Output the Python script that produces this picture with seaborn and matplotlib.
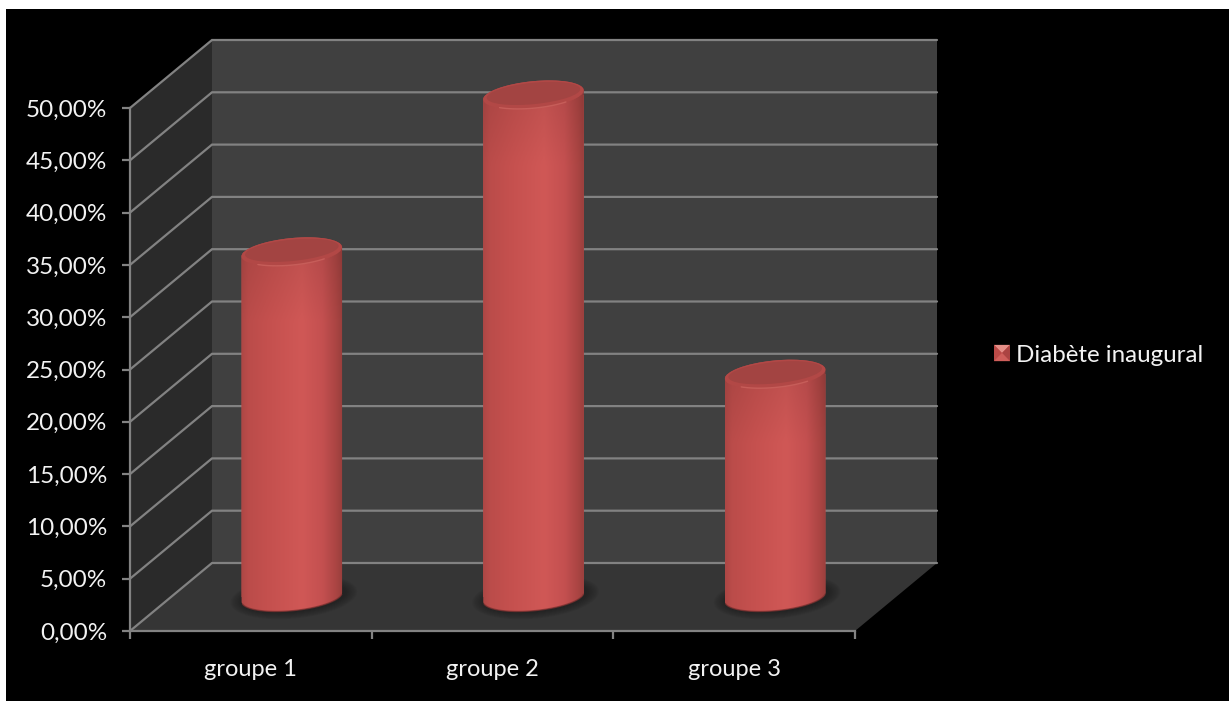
import numpy as np
import pandas as pd
import matplotlib
matplotlib.use("Agg")
import matplotlib.pyplot as plt
from matplotlib.colors import LinearSegmentedColormap
from matplotlib.patches import Ellipse, Polygon, Rectangle
from matplotlib.path import Path
from matplotlib.transforms import Affine2D, IdentityTransform
import seaborn as sns

# Chart content
groups = ["groupe 1", "groupe 2", "groupe 3"]
values = [33.0, 48.0, 21.3]
series_name = "Diabète inaugural"
y_ticks = [0, 5, 10, 15, 20, 25, 30, 35, 40, 45, 50]
y_tick_labels = [f"{v},00%" for v in y_ticks]

# Oblique projection of the box, in pixels
DEPTH_PX = (82, 68)
TILT_DEG = 5.6
CYL_SEMI_A, CYL_SEMI_B = 50.5, 13.7

WALL_SIDE = "#2a2a2a"
WALL_BACK = "#404040"
FLOOR = "#353535"
GRID = "#828282"
TEXT = "#f2f2f2"
BAR = "#c44f4d"

sns.set_theme(style="white")
plt.rcParams["font.family"] = ["Lato", "DejaVu Sans"]

fig = plt.figure(figsize=(12.29, 7.01), dpi=100, facecolor="white")
W, H = fig.get_size_inches() * fig.dpi
ax = fig.add_axes([130 / W, 70 / H, 725 / W, 523 / H])
ax.patch.set_visible(False)

# Black backdrop leaving a thin white edge at the top and left
fig.patches.append(Rectangle((6 / W, 0), 1, 1 - 9 / H, transform=fig.transFigure,
                             facecolor="black", edgecolor="none", zorder=-10))

df = pd.DataFrame({"groupe": groups, "valeur": values})
sns.barplot(data=df, x="groupe", y="valeur", color=BAR, saturation=1, width=0.418,
            label=series_name, legend=False, ax=ax, zorder=3)
bars = list(ax.patches)

ax.set_xlim(-0.5, 2.5)
ax.set_ylim(0, 50)
ax.set_xlabel("")
ax.set_ylabel("")

px_x = 725 / 3
px_y = 523 / 50
dx, dy = DEPTH_PX[0] / px_x, DEPTH_PX[1] / px_y
x0, x1 = -0.5, 2.5

# Box: side wall, back wall, floor
common = dict(clip_on=False, edgecolor="none")
ax.add_patch(Polygon([(x0, 0), (x0 + dx, dy), (x0 + dx, 50 + dy), (x0, 50)],
                     facecolor=WALL_SIDE, zorder=0.1, **common))
ax.add_patch(Polygon([(x0 + dx, dy), (x1 + dx, dy), (x1 + dx, 50 + dy), (x0 + dx, 50 + dy)],
                     facecolor=WALL_BACK, zorder=0.1, **common))
ax.add_patch(Polygon([(x0, 0), (x1, 0), (x1 + dx, dy), (x0 + dx, dy)],
                     facecolor=FLOOR, zorder=0.2, **common))

# Gridlines run along the side wall and across the back wall
for v in y_ticks:
    ax.plot([x0, x0 + dx, x1 + dx], [v, v + dy, v + dy], color=GRID, lw=1.6,
            clip_on=False, zorder=1, solid_joinstyle="miter")

bar_offset = Affine2D().translate(DEPTH_PX[0] / 2, DEPTH_PX[1] / 2)
bar_trans = ax.transData + bar_offset

theta = np.radians(TILT_DEG)


def ellipse_points(cx, cy, a, b, start, stop, n=80):
    t = np.linspace(start, stop, n)
    ex, ey = a * np.cos(t), b * np.sin(t)
    return np.column_stack([cx + ex * np.cos(theta) - ey * np.sin(theta),
                            cy + ex * np.sin(theta) + ey * np.cos(theta)])


body_cmap = LinearSegmentedColormap.from_list(
    "cylinder",
    [(0.0, "#ad4745"), (0.07, "#bb4c4a"), (0.3, "#c6514f"), (0.6, "#d05856"),
     (0.8, "#c45050"), (0.93, "#ab4543"), (1.0, "#983e3c")],
)
across = body_cmap(np.linspace(0, 1, 256))[:, :3]

for i, (bar, value) in enumerate(zip(bars, values)):
    base = ax.transData.transform((i, 0)) + np.array(DEPTH_PX) / 2
    top = ax.transData.transform((i, value)) + np.array(DEPTH_PX) / 2

    # Soft contact shadow on the floor
    for grow in np.linspace(13, 1, 9):
        ax.add_patch(Ellipse(base + np.array([2, 0]), 2 * CYL_SEMI_A + 2 * grow,
                             2 * CYL_SEMI_B + 1.2 * grow,
                             angle=TILT_DEG, transform=IdentityTransform(),
                             facecolor="#1c1c1c", edgecolor="none", alpha=0.10,
                             zorder=2, clip_on=False))

    # Curved body: lower arc of the base, upper arc of the top
    outline = np.vstack([
        ellipse_points(*base, CYL_SEMI_A, CYL_SEMI_B, np.pi, 2 * np.pi),
        ellipse_points(*top, CYL_SEMI_A, CYL_SEMI_B, 0, np.pi),
    ])
    body_path = Path(np.vstack([outline, outline[0]]), closed=True)

    bar.set_transform(bar_trans)
    bar.set_edgecolor("none")
    bar.set_linewidth(0)
    bar.set_clip_box(None)
    bar.set_clip_path(body_path, IdentityTransform())

    # Shading across the cylinder, slightly darker under the cap
    half = 0.209
    depth_px = np.linspace(-30, (value + 3) * px_y, 128)
    shade = np.interp(depth_px, [0, 70], [0.92, 1.0])[:, None, None]
    body_rgb = np.clip(across[None, :, :] * shade, 0, 1)
    im = ax.imshow(body_rgb, aspect="auto", origin="upper",
                   extent=(i - half, i + half, -3, value + 3),
                   transform=bar_trans, zorder=3.1)
    im.set_clip_box(fig.bbox)
    im.set_clip_path(body_path, IdentityTransform())
    ax.set_xlim(-0.5, 2.5)
    ax.set_ylim(0, 50)

    arc = ellipse_points(*base, CYL_SEMI_A, CYL_SEMI_B, np.pi * 1.05, np.pi * 1.95)
    ax.plot(*arc.T, transform=IdentityTransform(), color="#7c302f", lw=1.0, alpha=0.7,
            zorder=3.2, clip_on=False)

    # End cap with its bevelled rim and highlight along the front edge
    ax.add_patch(Ellipse(top, 2 * CYL_SEMI_A, 2 * CYL_SEMI_B, angle=TILT_DEG,
                         transform=IdentityTransform(), facecolor="#b24846",
                         edgecolor="none", zorder=4, clip_on=False))
    ax.add_patch(Ellipse(top + np.array([0, 1.5]), 2 * CYL_SEMI_A - 7, 2 * CYL_SEMI_B - 6,
                         angle=TILT_DEG, transform=IdentityTransform(), facecolor="#a34442",
                         edgecolor="none", zorder=4.1, clip_on=False))
    rim = ellipse_points(*top, CYL_SEMI_A - 1, CYL_SEMI_B - 0.5, np.pi * 1.25, np.pi * 1.72)
    ax.plot(*rim.T, transform=IdentityTransform(), color="#d76f69", lw=1.0, alpha=0.55,
            zorder=4.2, clip_on=False)

# Axis lines, ticks and labels
for side in ("top", "right"):
    ax.spines[side].set_visible(False)
for side in ("left", "bottom"):
    ax.spines[side].set_color(GRID)
    ax.spines[side].set_linewidth(1.6)
    ax.spines[side].set_zorder(5)

ax.set_yticks(y_ticks)
ax.set_yticklabels(y_tick_labels)
ax.set_xticks([-0.5, 0.5, 1.5, 2.5])
ax.set_xticklabels([])
ax.set_xticks([0, 1, 2], labels=groups, minor=True)
ax.tick_params(axis="y", which="major", left=True, length=5.5, width=1.6, color=GRID,
               labelcolor=TEXT, labelsize=17.5, pad=11)
ax.tick_params(axis="x", which="major", bottom=True, length=5.5, width=1.6, color=GRID)
ax.tick_params(axis="x", which="minor", bottom=False, labelcolor=TEXT, labelsize=17, pad=16.5)

# Legend
handles = [Rectangle((0, 0), 1, 1, facecolor="#c8524f", edgecolor="none")]
leg = fig.legend(handles, [series_name], loc="center left",
                 bbox_to_anchor=(994 / W, (701 - 355) / H), frameon=False,
                 fontsize=17.4, labelcolor=TEXT, handlelength=0.66, handleheight=0.66,
                 handletextpad=0.25, borderpad=0, borderaxespad=0)

# Pyramid bevel on the legend key
fig.canvas.draw()
bb = leg.legend_handles[0].get_window_extent()
mid = ((bb.x0 + bb.x1) / 2, (bb.y0 + bb.y1) / 2)
key_faces = [
    ([(bb.x0, bb.y1), (bb.x1, bb.y1), mid], "#e58e87"),
    ([(bb.x0, bb.y0), (bb.x0, bb.y1), mid], "#bb4a47"),
    ([(bb.x1, bb.y0), (bb.x1, bb.y1), mid], "#ab4442"),
    ([(bb.x0, bb.y0), (bb.x1, bb.y0), mid], "#cf5f5b"),
]
for face, colour in key_faces:
    fig.patches.append(Polygon(face, transform=IdentityTransform(), facecolor=colour,
                               edgecolor="none", zorder=10))

fig.savefig("out.png", dpi=100, facecolor=fig.get_facecolor())
